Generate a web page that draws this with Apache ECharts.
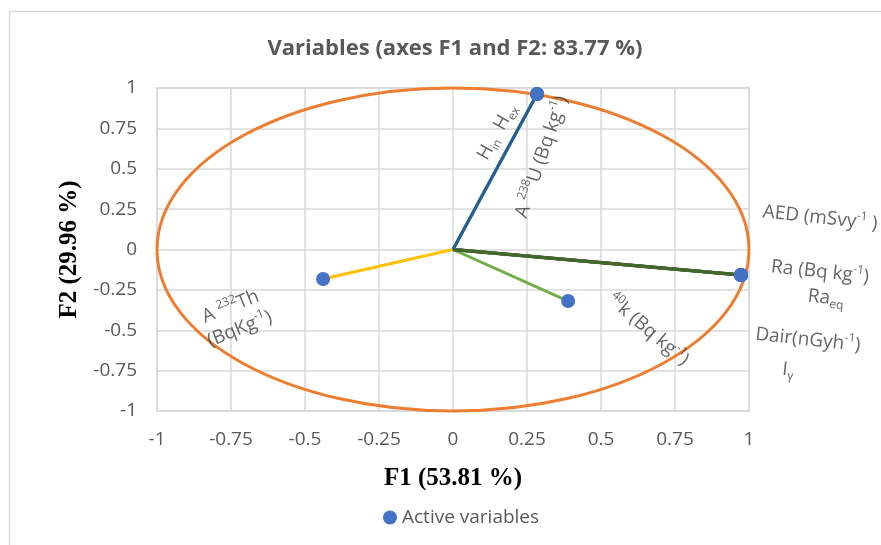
<!DOCTYPE html>
<html>
<head>
<meta charset="utf-8">
<script src="https://cdn.jsdelivr.net/npm/echarts@6/dist/echarts.min.js"></script>
<style>html,body{margin:0;padding:0;background:#fff;}#c{width:881px;height:545px;}</style>
</head>
<body>
<div id="c"></div>
<script>
// ---- data ----
const variables = ['A 238U', 'A 232Th', '40K', 'Ra', 'Raeq', 'Dair', 'Iγ', 'AED', 'Hin', 'Hex'];
const f1 = [0.284, -0.439, 0.389, 0.973, 0.973, 0.973, 0.973, 0.973, 0.284, 0.284];
const f2 = [0.963, -0.183, -0.319, -0.158, -0.158, -0.158, -0.158, -0.158, 0.963, 0.963];
const circleCenter = [0, 0];
const circleRadius = 1;
const axisTicks = [-1, -0.75, -0.5, -0.25, 0, 0.25, 0.5, 0.75, 1];

// ---- styles ----
const vectorColors = ['#A5A5A5', '#FFC000', '#70AD47', '#5B9BD5', '#264478', '#9E480E', '#636363', '#43682B', '#5B9BD5', '#255E91'];
const vectorWidths = [3, 3, 3, 3, 3, 3, 3, 3.5, 3, 3];
const labelFont = 'Open Sans, Noto Sans, sans-serif';
const rich = {
  sup: { fontSize: 12, lineHeight: 12, verticalAlign: 'top', color: '#404040', fontFamily: labelFont },
  sub: { fontSize: 12, lineHeight: 12, verticalAlign: 'bottom', color: '#404040', fontFamily: labelFont }
};
// annotation texts (anchor in data space, rotation in degrees)
const annotations = [
  { text: 'H{sub|in}  H{sub|ex}', at: [0.149, 0.728], rotate: 61 },
  { text: 'A {sup|238}U (Bq kg{sup|-1})', at: [0.300, 0.573], rotate: 71 },
  { text: 'AED (mSvy{sup|-1} )', at: [1.24, 0.195], rotate: -6 },
  { text: 'Ra (Bq kg{sup|-1})', at: [1.24, -0.139], rotate: -6 },
  { text: 'Ra{sub|eq}', at: [1.26, -0.300], rotate: -6 },
  { text: 'Dair(nGyh{sup|-1})', at: [1.199, -0.560], rotate: -6 },
  { text: 'I{sub|γ}', at: [1.132, -0.746], rotate: -6 },
  { text: '{sup|40}k (Bq kg{sup|-1})', at: [0.659, -0.498], rotate: -40 },
  { text: 'A {sup|232}Th\n(BqKg{sup|-1})', at: [-0.736, -0.424], rotate: 22 }
];

const series = [];
// correlation circle
series.push({
  type: 'custom',
  name: 'circle',
  clip: false,
  silent: true,
  z: 1,
  data: [[circleCenter[0], circleCenter[1], circleRadius]],
  encode: { x: 0, y: 1 },
  renderItem: function (params, api) {
    const c = api.coord([api.value(0), api.value(1)]);
    const e = api.coord([api.value(0) + api.value(2), api.value(1) + api.value(2)]);
    return {
      type: 'ellipse',
      shape: { cx: c[0], cy: c[1], rx: e[0] - c[0], ry: c[1] - e[1] },
      style: { fill: 'none', stroke: '#ED7D31', lineWidth: 3 }
    };
  }
});
// vectors
variables.forEach(function (v, i) {
  series.push({
    type: 'line',
    name: 'vec_' + v,
    data: [[0, 0], [f1[i], f2[i]]],
    symbol: 'none',
    silent: true,
    z: 2 + i * 0.01,
    lineStyle: { color: vectorColors[i], width: vectorWidths[i] }
  });
});
// active variables
series.push({
  type: 'scatter',
  name: 'Active variables',
  data: variables.map(function (v, i) { return { name: v, value: [f1[i], f2[i]] }; }),
  symbol: 'circle',
  symbolSize: 14,
  itemStyle: { color: '#4472C4', opacity: 1 },
  z: 5
});
// annotation labels
series.push({
  type: 'scatter',
  name: 'labels',
  clip: false,
  silent: true,
  symbolSize: 0,
  z: 6,
  data: annotations.map(function (a) {
    return {
      value: a.at,
      label: {
        show: true,
        formatter: a.text,
        rotate: a.rotate,
        position: 'inside',
        align: 'center',
        verticalAlign: 'middle',
        fontSize: 19,
        lineHeight: 24,
        color: '#404040',
        fontFamily: labelFont,
        rich: rich
      }
    };
  })
});

const axisCommon = {
  type: 'value',
  min: axisTicks[0],
  max: axisTicks[axisTicks.length - 1],
  interval: 0.25,
  axisLine: { show: false },
  axisTick: { show: false },
  splitLine: { show: true, lineStyle: { color: '#D9D9D9', width: 1.5 } },
  axisLabel: { color: '#595959', fontSize: 19, fontFamily: labelFont },
  nameLocation: 'middle',
  nameTextStyle: { fontFamily: 'Liberation Serif, serif', fontWeight: 'bold', fontSize: 25, color: '#000' }
};

const option = {
  animation: false,
  backgroundColor: '#fff',
  title: {
    text: 'Variables (axes F1 and F2: 83.77 %)',
    left: 450,
    top: 33,
    textAlign: 'center',
    textStyle: { fontFamily: 'Open Sans, sans-serif', fontWeight: 'bold', fontSize: 22, color: '#595959' }
  },
  legend: {
    data: ['Active variables'],
    top: 503,
    left: 378,
    icon: 'circle',
    itemWidth: 14,
    itemHeight: 14,
    itemGap: 4,
    textStyle: { color: '#595959', fontSize: 19, fontFamily: labelFont }
  },
  grid: { left: 157, right: 132, top: 88, bottom: 134, show: true, borderColor: '#D9D9D9', borderWidth: 1.5 },
  xAxis: Object.assign({}, axisCommon, { name: 'F1 (53.81 %)', nameGap: 55,
    axisLabel: Object.assign({}, axisCommon.axisLabel, { margin: 19 }) }),
  yAxis: Object.assign({}, axisCommon, { name: 'F2 (29.96 %)', nameGap: 75,
    axisLabel: Object.assign({}, axisCommon.axisLabel, { margin: 20 }) }),
  graphic: [{
    type: 'rect',
    shape: { x: 9.5, y: 11.5, width: 900, height: 600 },
    style: { fill: 'none', stroke: '#D9D9D9', lineWidth: 1.5 },
    silent: true,
    z: -10
  }],
  series: series
};

const chart = echarts.init(document.getElementById('c'));
chart.setOption(option);
</script>
</body>
</html>
